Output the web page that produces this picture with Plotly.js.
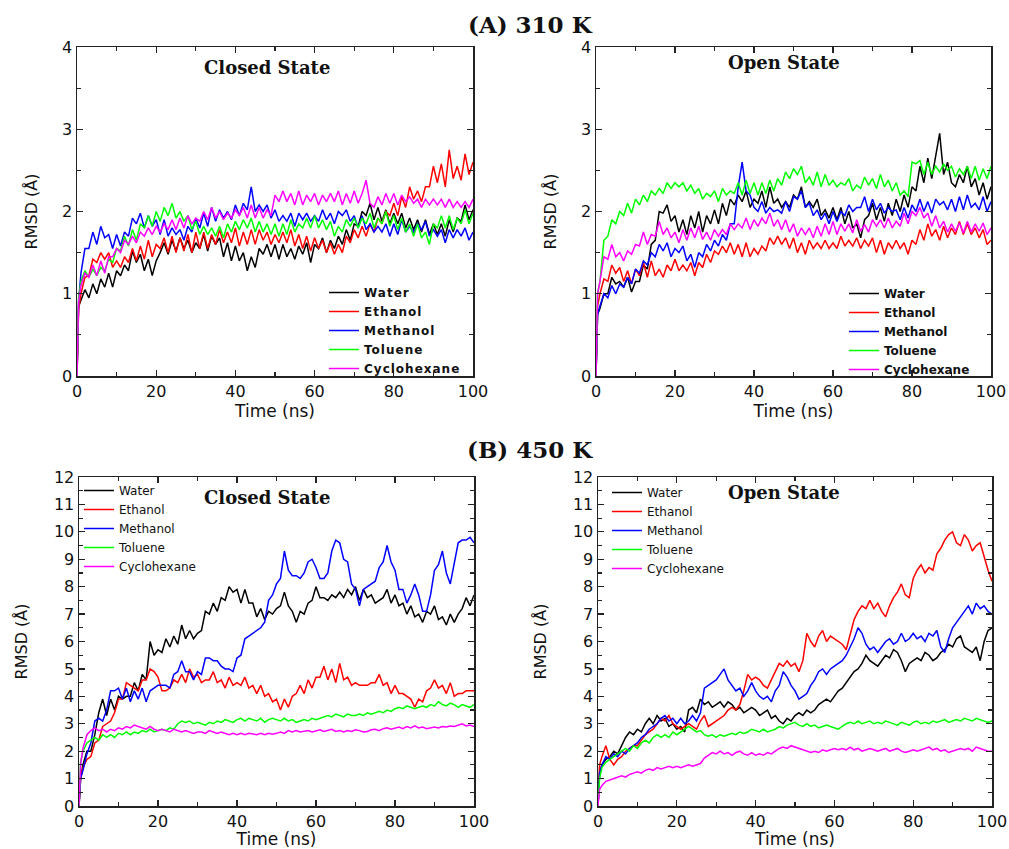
<!DOCTYPE html>
<html>
<head>
<meta charset="utf-8">
<script src="https://cdn.plot.ly/plotly-3.0.1.min.js"></script>
<style>
  html, body { margin: 0; padding: 0; background: #ffffff; }
  #chart { width: 1009px; height: 849px; }
  /* wider letter spacing for the legend labels; keep them unclipped */
  #chart .legend .legendtext, #chart .legend2 .legendtext { letter-spacing: 1px; }
  #chart .legend3 .legendtext, #chart .legend4 .legendtext { letter-spacing: 1.1px; }
  #chart .scrollbox { clip-path: none !important; }
</style>
</head>
<body>
<div id="chart"></div>
<script>
// Simulation time grid (ns)
const timeNs = [0, 0.4,
  1,2,3,4,5,6,7,8,9,10, 11,12,13,14,15,16,17,18,19,20,
  21,22,23,24,25,26,27,28,29,30, 31,32,33,34,35,36,37,38,39,40,
  41,42,43,44,45,46,47,48,49,50, 51,52,53,54,55,56,57,58,59,60,
  61,62,63,64,65,66,67,68,69,70, 71,72,73,74,75,76,77,78,79,80,
  81,82,83,84,85,86,87,88,89,90, 91,92,93,94,95,96,97,98,99,100];

const solvents = ['Water', 'Ethanol', 'Methanol', 'Toluene', 'Cyclohexane'];
const solventColors = ['#000000', '#ff0000', '#0000ff', '#00ff00', '#ff00ff'];

// ---- 310 K, closed state: RMSD (Å) ----
const closed310Water = [0, 0.85,
  0.92,1.05,0.95,1.12,1.0,1.18,1.08,1.25,1.08,1.28, 1.22,1.35,1.28,1.52,1.38,1.48,1.28,1.42,1.22,1.4,
  1.5,1.62,1.48,1.65,1.52,1.68,1.55,1.65,1.5,1.62, 1.55,1.72,1.52,1.7,1.6,1.68,1.45,1.62,1.4,1.58,
  1.4,1.5,1.28,1.45,1.32,1.55,1.48,1.6,1.45,1.6, 1.42,1.6,1.45,1.55,1.42,1.58,1.48,1.62,1.38,1.6,
  1.55,1.68,1.5,1.65,1.55,1.7,1.6,1.78,1.65,1.85, 1.82,2.0,1.95,2.1,1.9,2.05,1.88,2.02,1.85,1.98,
  1.85,1.98,1.8,1.92,1.78,1.9,1.75,1.9,1.72,1.85, 1.72,1.85,1.7,1.9,1.75,1.92,1.88,2.08,1.9,2.02];
const closed310Ethanol = [0, 0.8,
  1.0,1.2,1.22,1.42,1.38,1.5,1.42,1.5,1.32,1.4, 1.32,1.45,1.38,1.55,1.4,1.58,1.42,1.65,1.45,1.6,
  1.55,1.68,1.5,1.7,1.5,1.68,1.52,1.72,1.5,1.75, 1.55,1.75,1.55,1.72,1.6,1.78,1.62,1.75,1.62,1.8,
  1.58,1.75,1.6,1.78,1.6,1.78,1.65,1.75,1.6,1.72, 1.62,1.75,1.62,1.78,1.58,1.72,1.55,1.7,1.52,1.68,
  1.55,1.65,1.5,1.62,1.48,1.6,1.5,1.7,1.62,1.78, 1.68,1.82,1.7,1.85,1.75,1.92,1.85,2.0,1.95,2.1,
  1.95,2.18,2.05,2.3,2.15,2.25,2.12,2.3,2.3,2.55, 2.35,2.58,2.3,2.75,2.4,2.55,2.38,2.7,2.45,2.6];
const closed310Methanol = [0, 0.9,
  1.25,1.55,1.55,1.75,1.6,1.82,1.68,1.72,1.55,1.72, 1.58,1.75,1.7,1.92,1.85,1.98,1.8,1.95,1.82,1.9,
  1.72,1.9,1.7,1.8,1.72,1.78,1.65,1.82,1.75,1.92, 1.8,1.98,1.82,2.05,1.88,2.02,1.92,2.0,1.9,2.08,
  1.95,2.1,2.02,2.3,2.0,2.08,2.0,2.08,1.92,2.02, 1.88,1.95,1.88,1.98,1.82,1.98,1.9,1.98,1.88,1.95,
  1.88,2.02,1.9,1.98,1.85,2.0,1.95,2.02,1.88,1.95, 1.8,1.95,1.78,1.85,1.75,1.82,1.75,1.85,1.7,1.85,
  1.72,1.9,1.75,1.82,1.75,1.85,1.78,1.88,1.7,1.78, 1.7,1.78,1.62,1.78,1.68,1.78,1.7,1.8,1.65,1.75];
const closed310Toluene = [0, 0.95,
  1.15,1.28,1.2,1.3,1.22,1.32,1.28,1.42,1.38,1.55, 1.52,1.7,1.58,1.78,1.65,1.85,1.8,1.95,1.82,2.0,
  1.88,2.05,1.95,2.1,1.92,2.0,1.88,1.95,1.78,1.88, 1.72,1.82,1.72,1.8,1.7,1.82,1.68,1.85,1.75,1.88,
  1.78,1.9,1.8,1.92,1.75,1.88,1.75,1.85,1.72,1.85, 1.7,1.85,1.72,1.9,1.75,1.85,1.8,1.92,1.8,1.95,
  1.8,1.9,1.78,1.88,1.7,1.82,1.75,1.9,1.82,1.92, 1.8,1.92,1.85,1.98,1.8,1.92,1.85,2.0,1.82,1.95,
  1.78,1.92,1.75,1.85,1.7,1.85,1.68,1.75,1.6,1.85, 1.8,1.95,1.8,1.95,1.78,1.92,1.85,2.02,1.85,1.98];
const closed310Cyclohexane = [0, 0.9,
  1.1,1.25,1.2,1.35,1.22,1.4,1.25,1.45,1.45,1.55, 1.5,1.65,1.6,1.7,1.62,1.75,1.7,1.8,1.72,1.82,
  1.75,1.85,1.78,1.9,1.78,1.92,1.8,1.95,1.85,1.92, 1.88,2.0,1.9,2.05,1.92,2.0,1.9,1.98,1.92,2.02,
  1.95,2.05,1.92,2.08,1.92,2.05,1.92,2.02,1.95,2.2, 2.12,2.25,2.12,2.22,2.08,2.25,2.08,2.2,2.12,2.22,
  2.08,2.2,2.12,2.22,2.12,2.25,2.08,2.22,2.1,2.25, 2.1,2.22,2.38,2.1,2.05,2.18,2.08,2.22,2.1,2.22,
  2.08,2.2,2.12,2.18,2.1,2.15,2.05,2.15,2.08,2.15, 2.08,2.15,2.05,2.15,2.05,2.12,2.05,2.12,2.05,2.15];

// ---- 310 K, open state: RMSD (Å) ----
const open310Water = [0, 0.75,
  0.82,1.0,1.0,1.2,1.12,1.15,1.08,1.2,1.02,1.15, 1.15,1.35,1.3,1.6,1.65,2.0,1.98,2.08,1.88,1.95,
  1.75,1.9,1.72,1.95,1.8,2.0,1.75,1.95,1.85,2.02, 1.85,2.1,1.95,2.15,2.08,2.2,2.12,2.25,2.05,2.15,
  2.1,2.25,2.05,2.3,2.1,2.15,2.05,2.12,2.05,2.2, 2.15,2.3,2.05,2.12,2.05,2.15,1.95,2.02,1.92,2.05,
  1.9,2.05,1.85,2.0,1.8,1.85,1.68,1.9,1.95,2.1, 1.9,2.05,1.88,2.1,1.95,2.15,2.0,2.2,2.05,2.3,
  2.25,2.55,2.35,2.65,2.4,2.7,2.95,2.45,2.6,2.35, 2.3,2.45,2.35,2.55,2.3,2.4,2.2,2.35,2.15,2.3];
const open310Ethanol = [0, 0.85,
  1.0,1.18,1.15,1.35,1.25,1.32,1.15,1.28,1.12,1.3, 1.22,1.38,1.2,1.4,1.22,1.3,1.2,1.35,1.28,1.42,
  1.28,1.35,1.28,1.38,1.22,1.38,1.32,1.48,1.38,1.52, 1.48,1.58,1.5,1.62,1.48,1.6,1.45,1.62,1.45,1.55,
  1.48,1.58,1.52,1.68,1.6,1.7,1.6,1.68,1.55,1.68, 1.5,1.62,1.48,1.65,1.55,1.62,1.55,1.65,1.55,1.62,
  1.55,1.7,1.58,1.65,1.58,1.68,1.55,1.65,1.58,1.68, 1.5,1.65,1.48,1.62,1.55,1.65,1.55,1.62,1.48,1.65,
  1.6,1.78,1.65,1.85,1.7,1.78,1.65,1.82,1.68,1.8, 1.72,1.88,1.72,1.85,1.72,1.8,1.68,1.78,1.6,1.65];
const open310Methanol = [0, 0.75,
  0.85,1.0,0.95,1.1,1.0,1.12,1.08,1.2,1.12,1.3, 1.25,1.4,1.35,1.5,1.45,1.6,1.52,1.62,1.45,1.55,
  1.5,1.58,1.4,1.48,1.32,1.5,1.45,1.6,1.52,1.65, 1.58,1.72,1.65,1.85,1.85,2.3,2.6,2.25,2.2,2.05,
  2.0,2.12,1.98,2.05,2.0,2.02,1.98,2.12,2.0,2.18, 2.15,2.25,2.05,2.1,1.95,2.02,1.9,1.98,1.85,2.0,
  1.88,2.0,1.95,2.08,2.0,2.05,2.05,2.18,2.0,2.15, 2.02,2.1,1.98,2.05,2.0,2.02,1.9,2.05,1.92,2.08,
  2.0,2.15,2.0,2.12,1.98,2.15,2.08,2.12,2.02,2.15, 2.0,2.18,2.02,2.2,2.05,2.1,2.02,2.18,2.0,2.12];
const open310Toluene = [0, 1.0,
  1.15,1.65,1.7,1.9,1.85,2.0,1.95,2.1,1.98,2.15, 2.08,2.2,2.12,2.25,2.2,2.28,2.22,2.35,2.28,2.35,
  2.3,2.35,2.25,2.32,2.22,2.28,2.15,2.22,2.18,2.25, 2.12,2.28,2.2,2.25,2.22,2.35,2.2,2.38,2.22,2.35,
  2.2,2.35,2.22,2.38,2.25,2.4,2.32,2.48,2.4,2.52, 2.45,2.55,2.35,2.42,2.32,2.48,2.3,2.45,2.32,2.38,
  2.3,2.35,2.32,2.4,2.25,2.32,2.28,2.42,2.32,2.4, 2.28,2.45,2.3,2.38,2.25,2.35,2.2,2.25,2.18,2.6,
  2.58,2.62,2.45,2.6,2.45,2.55,2.48,2.58,2.5,2.55, 2.42,2.52,2.45,2.55,2.4,2.55,2.38,2.52,2.4,2.55];
const open310Cyclohexane = [0, 1.0,
  1.15,1.45,1.42,1.6,1.45,1.5,1.4,1.52,1.48,1.6, 1.58,1.75,1.6,1.72,1.7,1.88,1.72,1.8,1.68,1.75,
  1.62,1.78,1.65,1.8,1.68,1.82,1.66,1.75,1.65,1.78, 1.7,1.78,1.72,1.85,1.78,1.85,1.8,1.92,1.78,1.9,
  1.82,1.92,1.85,1.98,1.82,1.9,1.78,1.9,1.75,1.85, 1.7,1.8,1.72,1.8,1.68,1.82,1.7,1.85,1.72,1.88,
  1.72,1.85,1.76,1.85,1.74,1.9,1.76,1.84,1.75,1.9, 1.82,1.9,1.8,1.92,1.8,1.88,1.82,1.98,1.85,2.0,
  1.95,2.05,1.92,1.98,1.82,1.95,1.8,1.88,1.75,1.85, 1.76,1.86,1.74,1.88,1.75,1.85,1.76,1.86,1.72,1.8];

// ---- 450 K, closed state: RMSD (Å) ----
const closed450Water = [0, 1.0,
  1.5,2.0,2.0,2.6,3.4,3.9,3.3,3.9,3.5,4.0, 3.9,4.0,4.0,4.5,4.2,4.8,4.6,6.0,5.5,5.7,
  5.6,6.1,5.8,6.2,5.9,6.6,6.1,6.4,6.1,6.3, 6.4,7.1,7.0,7.4,7.1,7.6,7.5,8.0,7.8,7.9,
  7.4,7.9,7.4,7.4,6.9,7.2,6.8,7.1,7.0,7.2, 7.3,7.8,7.3,7.1,6.7,7.1,7.0,7.4,7.5,8.0,
  7.6,7.6,7.5,7.7,7.6,7.8,7.6,7.9,7.7,8.0, 7.5,7.9,7.6,7.7,7.4,7.5,7.6,7.9,7.4,7.7,
  7.3,7.4,7.0,7.3,6.9,7.0,6.7,7.1,7.0,7.3, 6.8,6.9,6.6,7.0,6.7,7.0,7.2,7.6,7.3,7.7];
const closed450Ethanol = [0, 1.0,
  1.4,1.7,1.8,2.3,2.4,2.9,3.0,3.1,3.4,3.9, 3.9,4.5,4.4,4.3,4.2,4.6,4.6,5.0,4.9,4.7,
  4.2,4.2,4.3,4.6,4.5,4.8,4.5,5.0,4.7,4.8, 4.5,4.6,4.6,4.9,4.5,4.6,4.3,4.7,4.4,4.5,
  4.4,4.7,4.3,4.4,4.1,4.4,4.0,4.1,3.8,3.9, 3.5,3.9,3.6,4.0,4.1,4.4,4.1,4.6,4.3,4.7,
  4.7,5.1,4.6,5.0,4.5,5.2,4.6,4.7,4.4,4.5, 4.4,4.4,4.4,4.5,4.5,4.8,4.4,4.5,4.1,4.4,
  4.1,4.1,4.0,3.9,3.6,3.9,3.8,4.2,4.3,4.6, 4.3,4.4,4.1,4.5,4.0,4.1,4.1,4.2,4.2,4.2];
const closed450Methanol = [0, 1.0,
  1.3,1.9,2.3,3.1,3.2,3.1,3.5,4.2,4.2,4.3, 3.9,4.3,3.8,4.2,3.9,4.3,3.8,4.2,4.3,4.4,
  4.4,4.4,4.3,4.8,4.9,5.3,4.9,4.9,4.6,4.9, 4.8,5.4,5.4,5.3,5.3,5.1,5.0,5.0,4.9,5.4,
  5.5,6.1,6.2,6.3,6.4,6.5,6.7,7.5,7.7,8.1, 8.3,9.3,8.6,8.4,8.4,8.3,8.5,8.9,9.0,8.7,
  8.3,8.3,8.5,9.3,9.7,9.6,9.0,8.9,8.1,7.9, 7.3,7.9,8.0,8.1,8.2,8.7,8.9,9.5,8.9,8.6,
  7.9,7.9,7.4,7.7,8.1,7.7,7.1,7.1,7.7,8.6, 8.8,9.3,8.5,8.1,8.9,9.6,9.7,9.7,9.8,9.6];
const closed450Toluene = [0, 1.6,
  2.0,2.3,2.4,2.5,2.4,2.6,2.5,2.6,2.5,2.65, 2.6,2.7,2.6,2.7,2.65,2.75,2.7,2.8,2.7,2.75,
  2.8,2.75,2.85,2.8,3.0,3.1,3.05,3.1,3.0,3.05, 3.0,2.95,3.05,3.0,3.1,3.05,3.15,3.1,3.05,3.15,
  3.2,3.1,3.2,3.15,3.1,3.2,3.05,3.15,3.2,3.15, 3.1,3.2,3.1,3.15,3.05,3.1,3.15,3.1,3.2,3.15,
  3.2,3.25,3.3,3.25,3.35,3.3,3.25,3.35,3.3,3.3, 3.35,3.3,3.4,3.35,3.4,3.45,3.4,3.5,3.45,3.55,
  3.6,3.55,3.65,3.6,3.55,3.6,3.65,3.6,3.7,3.65, 3.8,3.7,3.65,3.75,3.7,3.6,3.7,3.65,3.6,3.7];
const closed450Cyclohexane = [0, 1.5,
  2.1,2.6,2.75,2.85,2.75,2.8,2.7,2.8,2.75,2.85, 2.8,2.9,2.85,2.95,2.9,2.85,2.8,2.9,2.8,2.75,
  2.8,2.75,2.7,2.8,2.75,2.7,2.75,2.7,2.65,2.7, 2.7,2.65,2.75,2.7,2.65,2.7,2.65,2.6,2.65,2.6,
  2.65,2.6,2.65,2.62,2.6,2.65,2.6,2.65,2.62,2.65, 2.7,2.65,2.75,2.7,2.75,2.7,2.72,2.75,2.7,2.75,
  2.78,2.72,2.75,2.8,2.72,2.75,2.7,2.75,2.72,2.78, 2.75,2.7,2.72,2.78,2.8,2.75,2.82,2.85,2.8,2.85,
  2.88,2.82,2.9,2.85,2.92,2.85,2.88,2.82,2.85,2.88, 2.85,2.9,2.88,2.92,2.9,2.95,3.0,2.92,2.95,2.9];

// ---- 450 K, open state: RMSD (Å) ----
const open450Water = [0, 1.2,
  1.5,1.7,1.8,2.0,1.9,2.2,2.5,2.7,2.6,2.8, 2.7,3.0,3.2,3.0,3.3,3.1,3.2,2.9,3.0,2.8,
  2.9,2.7,3.5,3.6,3.4,3.9,3.7,3.8,3.6,3.7, 3.8,3.6,3.8,3.7,3.5,3.6,3.4,3.5,3.6,3.5,
  3.3,3.4,3.5,3.2,3.3,3.1,3.0,3.2,3.1,3.3, 3.4,3.3,3.5,3.4,3.5,3.7,3.8,3.9,3.8,4.0,
  4.2,4.3,4.5,4.7,4.9,5.0,5.2,5.5,5.3,5.2, 5.1,5.3,5.5,5.4,5.7,5.6,5.3,4.9,5.2,5.3,
  5.4,5.3,5.6,5.5,5.3,5.4,5.6,5.7,5.9,5.8, 6.1,6.2,5.8,5.7,5.6,5.8,5.3,6.0,6.4,6.5];
const open450Ethanol = [0, 1.5,
  1.8,2.2,1.7,1.5,1.7,1.8,2.0,2.1,2.2,2.2, 2.4,2.6,2.7,2.8,3.0,3.2,3.1,3.3,3.0,2.9,
  2.8,2.9,3.0,2.9,2.8,3.1,3.3,2.9,3.0,3.1, 3.2,3.3,3.5,3.6,3.5,3.7,4.2,4.8,4.6,4.7,
  4.6,4.4,4.3,4.6,4.9,5.2,5.1,5.3,5.1,5.2, 4.9,5.3,6.3,6.0,5.8,6.2,6.4,6.0,6.2,6.1,
  6.0,5.9,5.7,6.3,6.8,7.1,7.3,7.2,7.5,7.2, 7.4,7.1,6.9,7.3,7.6,7.8,8.1,7.7,7.6,8.3,
  8.6,8.8,8.5,8.7,8.6,9.2,9.4,9.7,9.9,10.0, 9.6,9.5,9.9,9.7,9.3,9.5,9.6,9.1,8.6,8.2];
const open450Methanol = [0, 1.2,
  1.5,1.8,1.7,1.9,1.8,2.0,1.9,2.1,2.2,2.3, 2.5,2.6,2.8,2.9,3.0,3.2,3.3,3.1,3.2,3.0,
  3.2,3.0,3.1,3.3,3.1,3.4,4.3,4.4,4.5,4.6, 4.8,5.0,4.6,4.4,4.2,4.3,4.0,4.2,4.5,4.2,
  4.0,3.9,4.0,3.8,4.2,4.4,4.9,4.7,4.4,4.2, 3.9,4.0,4.1,4.4,4.6,4.9,5.0,4.8,5.0,5.1,
  5.2,5.3,5.5,5.8,6.1,6.5,6.3,5.9,5.7,5.8, 5.6,5.8,6.0,6.1,5.9,6.0,6.3,6.0,6.1,6.3,
  6.1,6.2,6.0,6.3,6.2,6.4,5.8,5.6,6.1,6.5, 6.7,6.9,7.1,7.3,7.0,7.4,7.2,7.3,7.1,7.0];
const open450Toluene = [0, 1.0,
  1.4,1.6,1.7,1.8,1.9,2.0,2.1,2.0,2.2,2.1, 2.3,2.4,2.3,2.5,2.6,2.5,2.6,2.5,2.7,2.6,
  2.7,2.8,2.9,2.8,2.7,2.75,2.6,2.55,2.6,2.5, 2.6,2.55,2.6,2.65,2.6,2.7,2.65,2.7,2.8,2.75,
  2.7,2.8,2.7,2.75,2.8,2.9,2.85,2.95,3.0,3.05, 2.95,2.9,3.0,2.9,2.95,2.85,2.9,2.95,2.9,2.85,
  2.8,2.9,3.0,3.05,3.0,3.1,3.0,3.05,3.1,3.0, 3.05,3.0,3.1,3.05,3.0,2.95,3.05,3.0,2.95,3.05,
  3.1,3.0,3.05,3.0,3.1,3.05,3.1,3.15,3.05,3.1, 3.15,3.1,3.2,3.15,3.1,3.2,3.15,3.1,3.05,3.1];
const open450Cyclohexane = [0, 0.6,
  0.75,0.9,0.95,1.0,1.05,1.1,1.05,1.15,1.2,1.25, 1.2,1.3,1.35,1.3,1.4,1.35,1.4,1.45,1.4,1.45,
  1.4,1.45,1.5,1.45,1.5,1.55,1.75,1.85,1.95,1.9, 2.0,1.9,1.95,1.85,1.95,2.0,1.9,1.85,1.95,1.85,
  1.9,1.85,1.95,1.9,2.0,2.1,2.15,2.1,2.2,2.15, 2.1,2.05,2.0,1.95,2.0,1.95,2.05,2.0,2.05,2.1,
  2.05,2.1,2.05,2.15,2.05,2.1,2.0,2.05,2.1,2.05, 2.0,2.05,2.1,2.0,2.05,2.1,2.0,1.95,2.0,2.05,
  2.0,2.05,2.1,2.15,2.05,2.1,2.0,2.05,1.95,2.0, 2.05,2.1,2.05,2.1,2.0,2.15,2.1,2.05,2.0,2.0];

// Panel definitions: series per panel, axis ids, legend id
const panels = [
  { series: [closed310Water, closed310Ethanol, closed310Methanol, closed310Toluene, closed310Cyclohexane],
    xa: 'x', ya: 'y', legend: 'legend' },
  { series: [open310Water, open310Ethanol, open310Methanol, open310Toluene, open310Cyclohexane],
    xa: 'x2', ya: 'y2', legend: 'legend2' },
  { series: [closed450Water, closed450Ethanol, closed450Methanol, closed450Toluene, closed450Cyclohexane],
    xa: 'x3', ya: 'y3', legend: 'legend3' },
  { series: [open450Water, open450Ethanol, open450Methanol, open450Toluene, open450Cyclohexane],
    xa: 'x4', ya: 'y4', legend: 'legend4' }
];

const traces = [];
panels.forEach(p => {
  p.series.forEach((vals, i) => {
    traces.push({
      type: 'scatter', mode: 'lines',
      x: timeNs, y: vals,
      xaxis: p.xa, yaxis: p.ya,
      name: solvents[i],
      legend: p.legend,
      line: { color: solventColors[i], width: 1.5 }
    });
  });
});

const W = 1009, H = 849;
const px = v => v / W;           // pixel x -> paper
const py = v => 1 - v / H;       // pixel y (from top) -> paper

const tickFont = { family: 'DejaVu Sans', size: 16, color: '#111111' };
const titleFont = { family: 'DejaVu Sans', size: 17, color: '#111111' };

function xAxis(domain, anchor) {
  return {
    domain: domain, anchor: anchor, range: [0, 100],
    tickvals: [0, 20, 40, 60, 80, 100],
    ticks: 'inside', ticklen: 6, tickwidth: 1.3, tickcolor: '#222',
    minor: { tickvals: [10, 30, 50, 70, 90], ticks: 'inside', ticklen: 4, tickwidth: 1.2, tickcolor: '#222' },
    showline: true, linecolor: '#222', linewidth: 1.5, mirror: 'ticks',
    showgrid: false, zeroline: false, automargin: false,
    tickfont: tickFont,
    title: { text: 'Time (ns)', font: titleFont, standoff: 0 }
  };
}
function yAxis(domain, anchor, maxVal, standoff) {
  const major = [], minor = [];
  for (let v = 0; v <= maxVal; v++) major.push(v);
  for (let v = 0.5; v < maxVal; v++) minor.push(v);
  return {
    domain: domain, anchor: anchor, range: [0, maxVal],
    tickvals: major,
    ticks: 'inside', ticklen: 6, tickwidth: 1.3, tickcolor: '#222',
    minor: { tickvals: minor, ticks: 'inside', ticklen: 4, tickwidth: 1.2, tickcolor: '#222' },
    showline: true, linecolor: '#222', linewidth: 1.5, mirror: 'ticks',
    showgrid: false, zeroline: false, automargin: false,
    tickfont: tickFont,
    title: { text: 'RMSD (Å)', font: { family: 'DejaVu Sans', size: 16, color: '#111111' }, standoff: standoff }
  };
}

const topDom = [py(376), py(47)];
const botDom = [py(806), py(477)];

function legendAt(xPix, yPix, bold) {
  return {
    x: px(xPix), y: py(yPix), xanchor: 'left', yanchor: 'top',
    bgcolor: 'rgba(0,0,0,0)', borderwidth: 0,
    font: { family: 'DejaVu Sans', size: 12, color: '#111111', weight: bold ? 'bold' : 'normal' },
    tracegroupgap: 0
  };
}

const heading = { family: 'DejaVu Serif', size: 23, color: '#111111', weight: 'bold' };
const stateFont = { family: 'DejaVu Serif', size: 18, color: '#111111', weight: 'bold' };

function label(text, xPix, yPix, font) {
  return { text: text, x: px(xPix), y: py(yPix), xref: 'paper', yref: 'paper',
           xanchor: 'center', yanchor: 'middle', showarrow: false, font: font };
}

const layout = {
  width: W, height: H, autosize: false,
  margin: { l: 0, r: 0, t: 0, b: 0 },
  paper_bgcolor: '#ffffff', plot_bgcolor: '#ffffff',
  showlegend: true,
  xaxis: xAxis([px(77), px(473)], 'y'),
  yaxis: yAxis(topDom, 'x', 4, 20),
  xaxis2: xAxis([px(596), px(991)], 'y2'),
  yaxis2: yAxis(topDom, 'x2', 4, 20),
  xaxis3: xAxis([px(79), px(474)], 'y3'),
  yaxis3: yAxis(botDom, 'x3', 12, 22),
  xaxis4: xAxis([px(598), px(992)], 'y4'),
  yaxis4: yAxis(botDom, 'x4', 12, 22),
  legend: legendAt(324, 278, true),
  legend2: legendAt(844, 279, true),
  legend3: legendAt(79, 476, false),
  legend4: legendAt(607, 478, false),
  annotations: [
    label('(A) 310 K', 530, 25, heading),
    label('(B) 450 K', 530, 449, heading),
    label('Closed State', 267, 67, stateFont),
    label('Open State', 784, 63, stateFont),
    label('Closed State', 267, 497, stateFont),
    label('Open State', 784, 492, stateFont)
  ]
};

Plotly.newPlot('chart', traces, layout, { displayModeBar: false, staticPlot: true });
</script>
</body>
</html>
